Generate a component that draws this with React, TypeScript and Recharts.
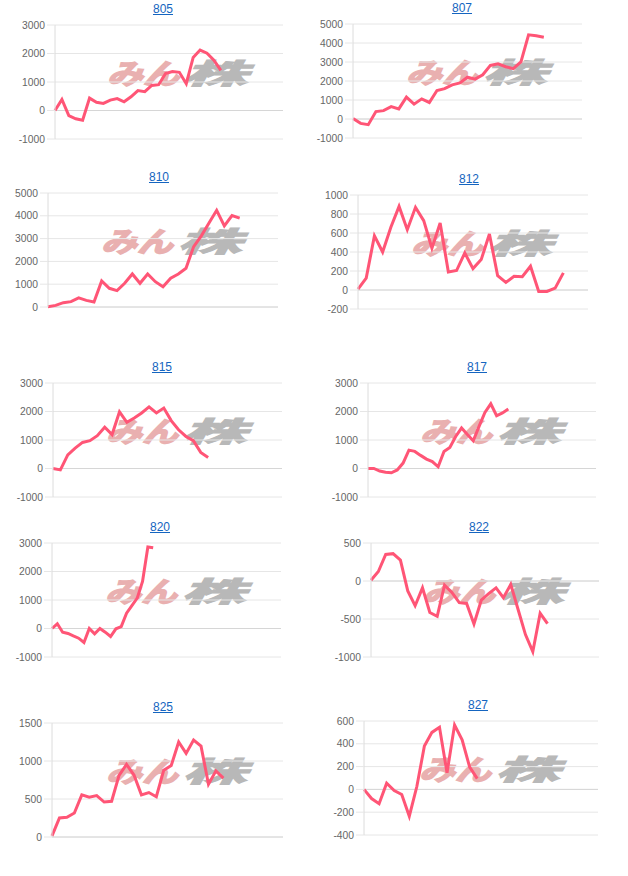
import { LineChart, Line, XAxis, YAxis, CartesianGrid, ReferenceLine } from "recharts";

// 各銘柄の損益推移
const v805 = [0, 390, -180, -290, -340, 435, 290, 250, 365, 420, 305, 480, 700, 660, 880, 905, 1300, 1365, 1340, 940, 1860, 2120, 2010, 1765, 1410];
const v807 = [30, -230, -300, 390, 440, 650, 530, 1150, 780, 1060, 870, 1500, 1600, 1800, 1900, 2200, 2100, 2330, 2820, 2900, 2750, 2650, 3000, 4430, 4380, 4300];
const v810 = [15, 70, 190, 235, 400, 290, 220, 1140, 820, 720, 1040, 1450, 1040, 1450, 1110, 890, 1260, 1450, 1700, 2650, 3120, 3680, 4240, 3560, 4010, 3900];
const v812 = [10, 125, 570, 400, 660, 880, 635, 870, 730, 440, 705, 190, 205, 390, 225, 320, 590, 150, 80, 145, 140, 250, -15, -15, 20, 180];
const v815 = [0, -50, 480, 715, 915, 975, 1150, 1450, 1190, 1990, 1620, 1770, 1950, 2160, 1950, 2120, 1680, 1360, 1125, 975, 565, 390];
const v817 = [0, 0, -90, -130, -150, -50, 190, 645, 600, 460, 330, 245, 60, 600, 740, 1125, 1420, 1190, 975, 1480, 1970, 2270, 1850, 1950, 2090];
const v820 = [0, 165, -130, -175, -260, -340, -490, 0, -190, 0, -130, -280, -10, 70, 540, 800, 1065, 1650, 2860, 2830];
const v822 = [10, 125, 350, 360, 275, -130, -325, -90, -415, -465, -55, -150, -285, -295, -565, -250, -165, -90, -220, -45, -375, -705, -930, -425, -560];
const v825 = [15, 250, 260, 315, 555, 525, 545, 460, 470, 810, 955, 815, 555, 585, 530, 880, 940, 1250, 1100, 1275, 1195, 695, 870, 775];
const v827 = [0, -80, -125, 55, -10, -45, -235, 25, 380, 500, 545, 145, 565, 435, 195, 95];

const t3000 = [-1000, 0, 1000, 2000, 3000];
const t5000 = [-1000, 0, 1000, 2000, 3000, 4000, 5000];
const t5000p = [0, 1000, 2000, 3000, 4000, 5000];
const t1000 = [-200, 0, 200, 400, 600, 800, 1000];
const t500 = [-1000, -500, 0, 500];
const t1500 = [0, 500, 1000, 1500];
const t600 = [-400, -200, 0, 200, 400, 600];

// 横軸の日数（表示枠）
const spans = [33, 30, 30, 28, 31, 39, 43, 31, 31, 31];
const titles = ["805", "807", "810", "812", "815", "817", "820", "822", "825", "827"];
const series = [v805, v807, v810, v812, v815, v817, v820, v822, v825, v827];
const tickSets = [t3000, t5000, t5000p, t1000, t3000, t3000, t3000, t500, t1500, t600];

// プロット領域 [left, top, right, bottom]（ページ座標）
const plots = [
  [55, 25, 283, 139],
  [353, 24, 582, 138],
  [48, 193, 278, 307],
  [358, 195, 588, 309],
  [53, 383, 282, 497],
  [368, 383, 596, 497],
  [52, 543, 281, 657],
  [371, 543, 599, 657],
  [52, 723, 283, 837],
  [364, 721, 598, 835],
];
const titlePos = [
  [163, 10], [462, 9], [159, 178], [469, 180], [162, 368],
  [477, 368], [160, 528], [479, 528], [163, 708], [478, 706],
];

const LINE = "#ff5576";
const GRID = "#e6e6e6";
const Y_W = 48;
const M_TOP = 10;
const M_BOTTOM = 10;

const Watermark = ({ cx, cy }: { cx: number; cy: number }) => (
  <svg
    width={150}
    height={40}
    overflow="visible"
    style={{ position: "absolute", left: cx - 72, top: cy - 20 }}
  >
    <text
      x={0}
      y={30}
      fontSize={28}
      fontWeight={700}
      fontStyle="italic"
      fontFamily="'Noto Sans CJK JP'"
      fill="#e9b0b0"
      stroke="#e9b0b0"
      strokeWidth={1.6}
      textLength={72}
      lengthAdjust="spacingAndGlyphs"
    >
      みん
    </text>
    <text
      x={76}
      y={30}
      fontSize={28}
      fontWeight={700}
      fontStyle="italic"
      fontFamily="'Noto Sans CJK JP'"
      fill="#b8b8b8"
      stroke="#b8b8b8"
      strokeWidth={1.2}
      textLength={64}
      lengthAdjust="spacingAndGlyphs"
    >
      株
    </text>
  </svg>
);

const MiniChart = ({ idx }: { idx: number }) => {
  const [pl, pt, pr, pb] = plots[idx];
  const ticks = tickSets[idx];
  const data = series[idx].map((v, i) => ({ i, v }));
  const width = Y_W + (pr - pl) + 4;
  const height = M_TOP + (pb - pt) + M_BOTTOM;
  const [tx, ty] = titlePos[idx];

  return (
    <>
      <div
        style={{
          position: "absolute",
          left: tx - 30,
          top: ty - 8,
          width: 60,
          textAlign: "center",
          fontSize: 12,
          fontFamily: "'Liberation Sans', Arial, sans-serif",
          color: "#1565c0",
          textDecoration: "underline",
        }}
      >
        {titles[idx]}
      </div>
      <div style={{ position: "absolute", left: pl - Y_W, top: pt - M_TOP, width, height }}>
        <Watermark cx={Y_W + (pr - pl) / 2 + 10} cy={M_TOP + (pb - pt) / 2 - 8} />
        <LineChart
          width={width}
          height={height}
          data={data}
          margin={{ top: M_TOP, right: 4, bottom: M_BOTTOM, left: 0 }}
        >
          <CartesianGrid vertical={false} stroke={GRID} />
          <XAxis dataKey="i" type="number" domain={[0, spans[idx]]} hide />
          <YAxis
            width={Y_W}
            domain={[ticks[0], ticks[ticks.length - 1]]}
            ticks={ticks}
            interval={0}
            tickSize={8}
            tickMargin={2}
            axisLine={{ stroke: "#dcdcdc" }}
            tickLine={{ stroke: GRID }}
            tick={{ fontSize: 10.3, fill: "#666", fontFamily: "'Liberation Sans', Arial, sans-serif" }}
          />
          <ReferenceLine y={0} stroke="#d6d6d6" />
          <Line
            type="linear"
            dataKey="v"
            stroke={LINE}
            strokeWidth={3}
            dot={false}
            isAnimationActive={false}
          />
        </LineChart>
      </div>
    </>
  );
};

export default function App() {
  return (
    <div
      style={{
        position: "absolute",
        left: 0,
        top: 0,
        width: 628,
        height: 876,
        background: "#fff",
      }}
    >
      {titles.map((_, i) => (
        <MiniChart key={i} idx={i} />
      ))}
    </div>
  );
}
